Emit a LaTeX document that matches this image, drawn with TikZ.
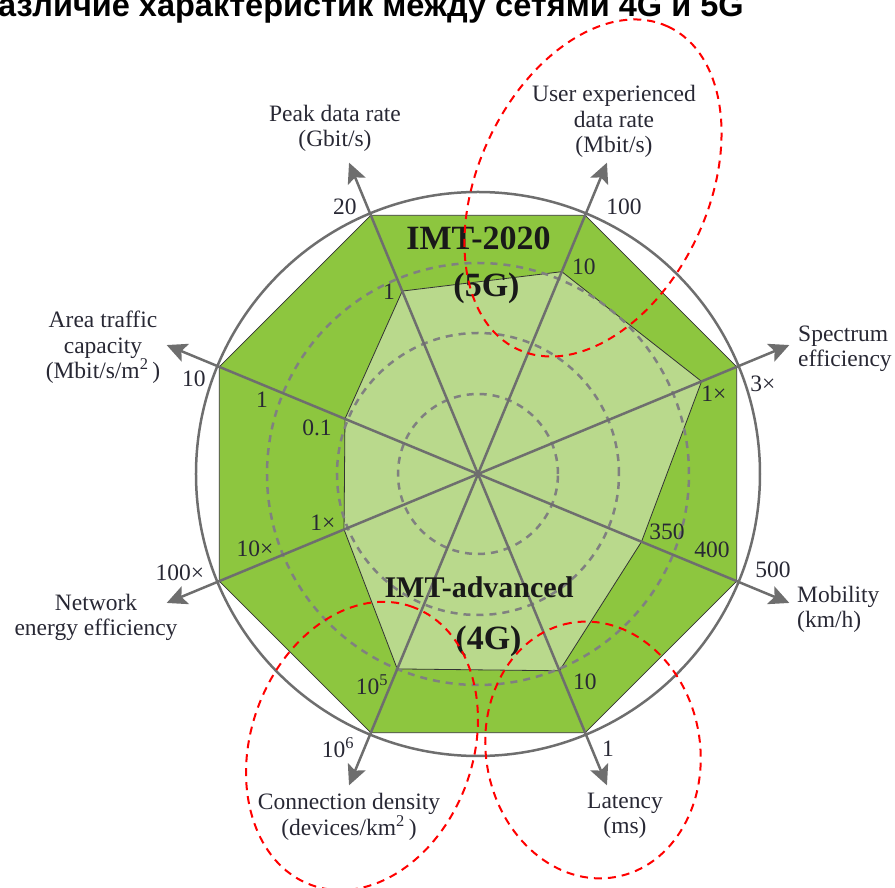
\documentclass[tikz,border=0pt]{standalone}
\usepackage{fontspec}
\setmainfont{Liberation Serif}
\newfontfamily\headfont{Liberation Sans}
\usepackage{tikz}
\usetikzlibrary{arrows.meta}
\definecolor{fivegreen}{RGB}{141,198,63}
\definecolor{fourgreen}{RGB}{185,217,140}
\definecolor{axisgray}{RGB}{110,110,110}
\definecolor{ringgray}{RGB}{128,128,128}
\definecolor{labelink}{RGB}{40,40,52}
\tikzset{	x=1pt, y=1pt,
	rim/.style={draw=axisgray, line width=2.5pt},
	fiveg/.style={fill=fivegreen, draw=black!80, line width=0.8pt},
	fourg/.style={fill=fourgreen, draw=black!80, line width=0.8pt},
	ring/.style={draw=ringgray, line width=2.5pt, dash pattern=on 7pt off 6pt},
	axis/.style={draw=axisgray, line width=2.5pt,
		-{Stealth[length=20pt,width=19pt,inset=4pt]}},
	value/.style={anchor=base, inner sep=0pt, text=labelink,
		font=\fontsize{23.5}{26}\selectfont},
	caption/.style={align=center, inner sep=0pt, text=labelink,
		font=\fontsize{23.5}{25.5}\selectfont},
	gen/.style={anchor=base, inner sep=0pt, text=black!90,
		font=\bfseries\fontsize{34}{34}\selectfont},
	redmark/.style={draw=red, line width=2pt, dash pattern=on 8pt off 6pt}
}
\begin{document}
\begin{tikzpicture}
				\useasboundingbox (-478,-414) rectangle (417,474);
				\node[anchor=base west, inner sep=0pt, font=\headfont\bfseries\fontsize{32.5}{32.5}\selectfont] (title) at (-480,457) {азличие характеристик между сетями 4G и 5G};
				\coordinate (o) at (0,0);
				\foreach \i/\a/\r in {1/112.5/198, 2/67.5/219, 3/22.5/242, 4/-22.5/177,
					5/-67.5/213, 6/-112.5/211, 7/-157.5/145, 8/157.5/144}{
					\coordinate (v\i) at (\a:280);
					\coordinate (w\i) at (\a:\r);
					\coordinate (t\i) at (\a:337);
				}
				\draw[rim] (o) circle[radius=282];
				\filldraw[fiveg] (v1) -- (v2) -- (v3) -- (v4) -- (v5) -- (v6) -- (v7) -- (v8) -- cycle;
				\filldraw[fourg] (w1) -- (w2) -- (w3) -- (w4) -- (w5) -- (w6) -- (w7) -- (w8) -- cycle;
				\foreach \r in {80,141,211}
					\draw[ring] (o) circle[radius=\r];
				\foreach \i in {1,...,8}
					\draw[axis] (o) -- (t\i);
				% axis captions
				\node[caption] (peak) at (-143,345.5) {Peak data rate\\(Gbit/s)};
				\node[caption] (user) at (136,352.5) {User experienced\\data rate\\(Mbit/s)};
				\node[caption, align=left, anchor=west] (spec) at (320,125) {Spectrum\\efficiency};
				\node[caption, align=left, anchor=west] (mob) at (319,-135.5) {Mobility\\(km/h)};
				\node[caption] (lat) at (147,-342) {Latency\\(ms)};
				\node[caption] (conn) at (-129,-343) {Connection density\\(devices/km\textsuperscript{2}\,)};
				\node[caption] (net) at (-382,-143.5) {Network\\energy efficiency};
				\node[caption] (area) at (-375,126.5) {Area traffic\\capacity\\(Mbit/s/m\textsuperscript{2}\,)};
				% values on the axes
				\node[value] (p5) at (-133,259) {20};
				\node[value] (p4) at (-89,174) {1};
				\node[value] (u5) at (146,259) {100};
				\node[value] (u4) at (106,199) {10};
				\node[value] (s5) at (285,82) {3×};
				\node[value] (s4) at (236,72) {1×};
				\node[value] (m4) at (189,-66) {350};
				\node[value] (m3) at (234,-84) {400};
				\node[value] (m5) at (295,-104) {500};
				\node[value] (l4) at (107,-216) {10};
				\node[value] (l5) at (130,-283) {1};
				\node[value] (c4) at (-106,-221) {10\textsuperscript{5}};
				\node[value] (c5) at (-140,-284) {10\textsuperscript{6}};
				\node[value] (n4) at (-155,-57) {1×};
				\node[value] (n3) at (-223,-83) {10×};
				\node[value] (n5) at (-298,-107) {100×};
				\node[value] (a5) at (-284,87) {10};
				\node[value] (a3) at (-216,66) {1};
				\node[value] (a4) at (-161,38) {0.1};
				% generations
				\node[gen] (imt5) at (0.5,224) {IMT-2020};
				\node[gen] (g5) at (8.5,177) {(5G)};
				\node[gen, font=\bfseries\fontsize{30}{30}\selectfont] (imt4) at (1,-124) {IMT-advanced};
				\node[gen] (g4) at (10.5,-176) {(4G)};
				% red marks
				\draw[redmark, shift={(115,286)}, rotate=65] (0,0) ellipse[x radius=178, y radius=115];
				\draw[redmark, shift={(-116,-272)}, rotate=70] (0,0) ellipse[x radius=148, y radius=111];
				\draw[redmark, shift={(115,-276)}, rotate=100] (0,0) ellipse[x radius=129, y radius=107];
			\end{tikzpicture}
\end{document}
